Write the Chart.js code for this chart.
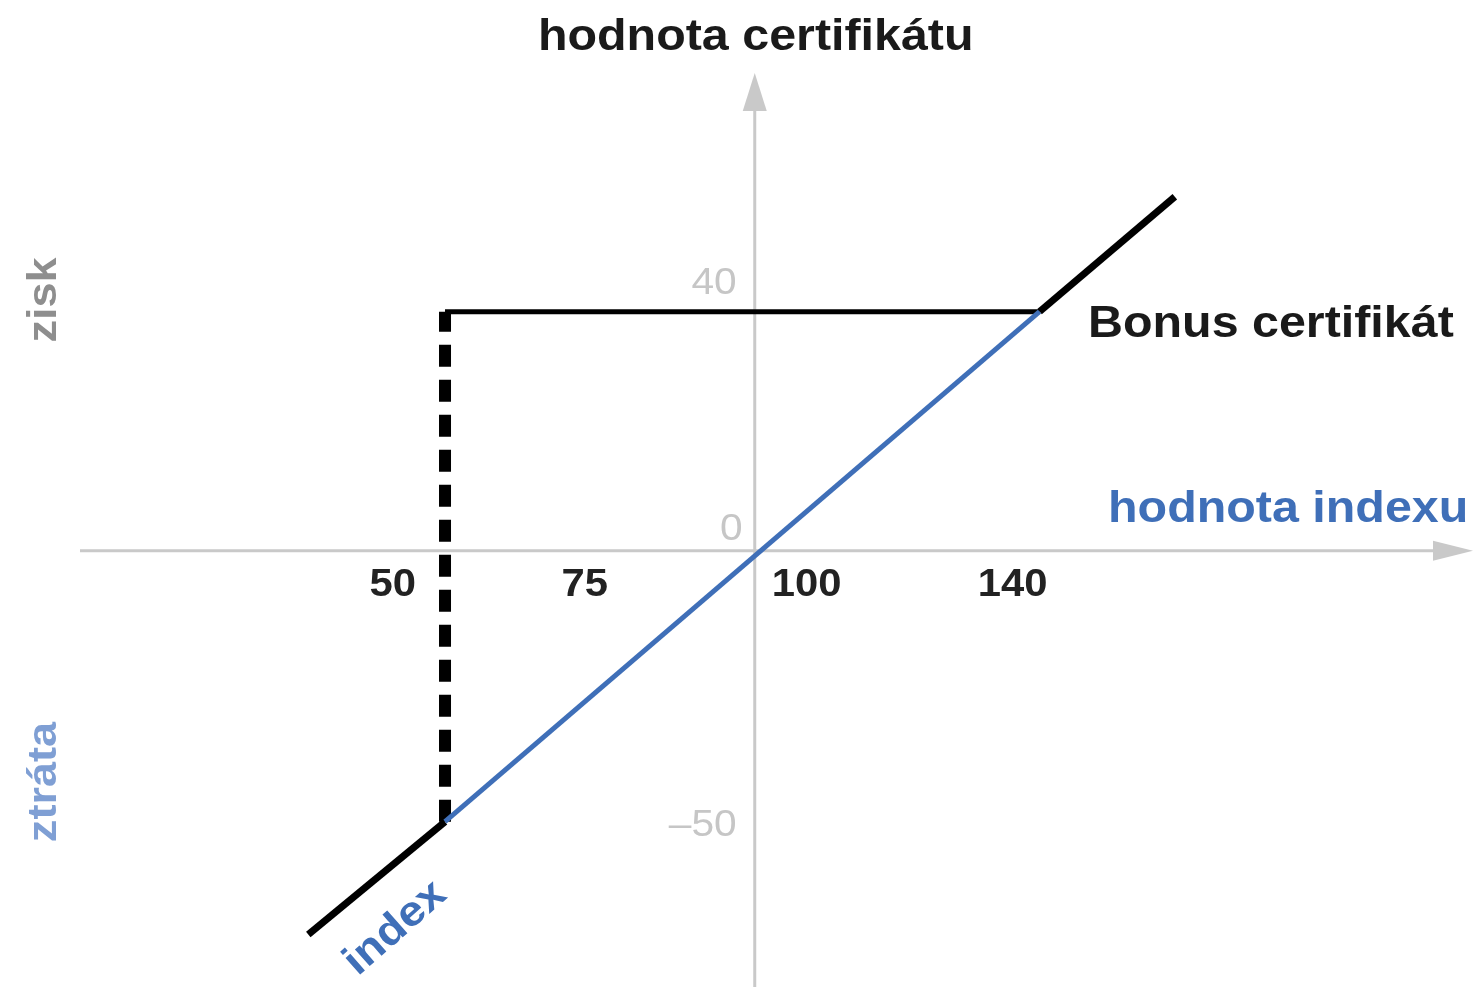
<!DOCTYPE html>
<html>
<head>
<meta charset="utf-8">
<script src="https://cdn.jsdelivr.net/npm/chart.js@4"></script>
<style>
  html, body { margin: 0; padding: 0; background: #fff; }
  canvas { display: block; }
</style>
</head>
<body>
<canvas id="payoff" width="1481" height="987"></canvas>
<script>
// payoff of a bonus certificate vs. the index (x = index value, y = profit)
const indexLine = [{ x: 56.5, y: -50 }, { x: 140, y: 44.1 }];
const lowerLeg = [{ x: 37.3, y: -70.8 }, { x: 56.5, y: -50 }];
const barrierDrop = [{ x: 56.5, y: -50 }, { x: 56.5, y: 44.1 }];
const bonusLevel = [{ x: 56.5, y: 44.1 }, { x: 140, y: 44.1 }];
const upperLeg = [{ x: 140, y: 44.1 }, { x: 159, y: 65.3 }];

const xTicks = [50, 75, 100, 140];
const yTicks = [40, 0, -50];

const BLUE = '#3f6fb8';
const AXIS = '#c9c9c9';
const FONT = '"Liberation Sans", Arial, sans-serif';
const STRETCH = 1.1; // source lettering is a bit wider than Arial

function text(ctx, str, x, y, align, rot) {
    ctx.save();
    ctx.translate(x, y);
    if (rot) ctx.rotate(rot);
    ctx.scale(STRETCH, 1);
    ctx.textAlign = align || 'left';
    ctx.fillText(str, 0, 0);
    ctx.restore();
}

const payoffDecor = {
    id: 'payoffDecor',
    beforeDatasetsDraw(chart) {
        const { ctx, scales: { x, y } } = chart;
        const x0 = x.getPixelForValue(100);
        const y0 = y.getPixelForValue(0);
        ctx.save();
        ctx.strokeStyle = AXIS;
        ctx.fillStyle = AXIS;
        ctx.lineWidth = 3;
        // horizontal axis
        ctx.beginPath();
        ctx.moveTo(80, y0);
        ctx.lineTo(1440, y0);
        ctx.stroke();
        ctx.beginPath();
        ctx.moveTo(1473, y0);
        ctx.lineTo(1433, y0 - 10);
        ctx.lineTo(1433, y0 + 10);
        ctx.closePath();
        ctx.fill();
        // vertical axis
        ctx.beginPath();
        ctx.moveTo(x0, chart.height);
        ctx.lineTo(x0, 105);
        ctx.stroke();
        ctx.beginPath();
        ctx.moveTo(x0, 73);
        ctx.lineTo(x0 - 12, 111);
        ctx.lineTo(x0 + 12, 111);
        ctx.closePath();
        ctx.fill();
        ctx.restore();
    },
    afterDatasetsDraw(chart) {
        const { ctx, scales: { x, y } } = chart;
        const x0 = x.getPixelForValue(100);
        const y0 = y.getPixelForValue(0);
        ctx.save();
        ctx.textBaseline = 'alphabetic';

        // x tick labels (nudged off the lines they sit next to)
        const xNudge = { 50: -6, 75: 8, 100: 52, 140: -27 };
        ctx.font = 'bold 38px ' + FONT;
        ctx.fillStyle = '#222';
        xTicks.forEach(v => {
            text(ctx, String(v), x.getPixelForValue(v) + xNudge[v], y0 + 45, 'center');
        });

        // y tick labels
        const yNudge = { 40: -40, 0: -11, '-50': 14 };
        ctx.font = '37px ' + FONT;
        ctx.fillStyle = '#c6c6c6';
        yTicks.forEach(v => {
            const right = v === 0 ? x0 - 12 : x0 - 18;
            text(ctx, String(v).replace('-', '–'), right, y.getPixelForValue(v) + yNudge[v], 'right');
        });

        // titles
        ctx.font = 'bold 44px ' + FONT;
        ctx.fillStyle = '#1a1a1a';
        text(ctx, 'hodnota certifikátu', x0 + 1, 50, 'center');
        text(ctx, 'Bonus certifikát', 1088, 337);

        ctx.fillStyle = BLUE;
        text(ctx, 'hodnota indexu', 1108, 522);

        // side labels
        ctx.font = 'bold 41px ' + FONT;
        ctx.fillStyle = '#8e8e8e';
        text(ctx, 'zisk', 56, 300, 'center', -Math.PI / 2);
        ctx.fillStyle = '#7f9fd4';
        text(ctx, 'ztráta', 56, 782, 'center', -Math.PI / 2);

        // "index" along the line
        ctx.fillStyle = BLUE;
        ctx.font = 'bold 42px ' + FONT;
        text(ctx, 'index', 403, 937, 'center', -0.72);

        ctx.restore();
    }
};

const seg = (data, color, width, dash) => ({
    data,
    borderColor: color,
    borderWidth: width,
    borderDash: dash || [],
    borderCapStyle: 'butt',
    pointRadius: 0,
    showLine: true,
    fill: false
});

new Chart(document.getElementById('payoff'), {
    type: 'scatter',
    data: {
        datasets: [
            seg(indexLine, BLUE, 5),
            seg(lowerLeg, '#000', 7),
            seg(barrierDrop, '#000', 12, [22, 13]),
            seg(bonusLevel, '#000', 5),
            seg(upperLeg, '#000', 7)
        ]
    },
    options: {
        responsive: false,
        animation: false,
        devicePixelRatio: 1,
        layout: { padding: 0 },
        plugins: { legend: { display: false }, tooltip: { enabled: false } },
        scales: {
            x: { type: 'linear', min: -6, max: 202, display: false },
            y: { type: 'linear', min: -80.5, max: 101.6, display: false }
        }
    },
    plugins: [payoffDecor]
});
</script>
</body>
</html>
